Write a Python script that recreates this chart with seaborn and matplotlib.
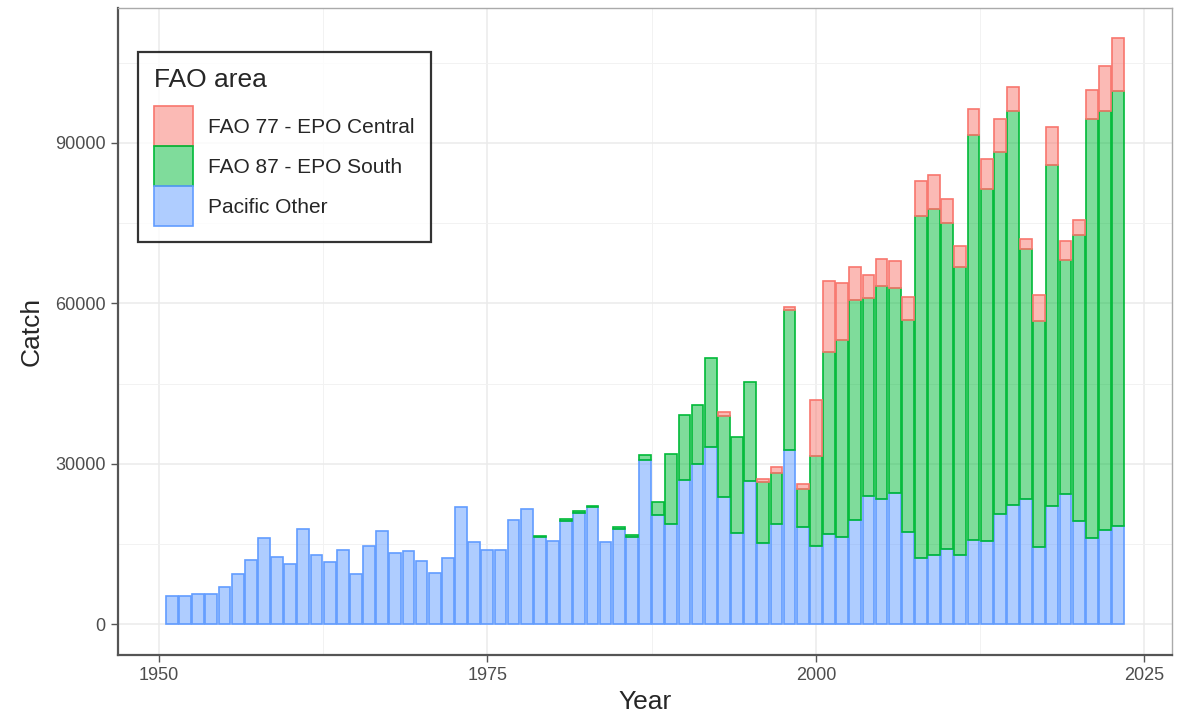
import numpy as np
import pandas as pd
import matplotlib
matplotlib.use("Agg")
import matplotlib.pyplot as plt
import matplotlib.ticker as mticker
from matplotlib.patches import Patch
import matplotlib.colors as mcolors
import seaborn as sns

years = list(range(1951, 2024))

pacific_other = [
    5400, 5400, 5700, 5700, 7100, 9500, 12100, 16100, 12700, 11300,   # 1951-1960
    17800, 13000, 11700, 13900, 9400, 14600, 17400, 13400, 13800, 11800,  # 1961-1970
    9600, 12500, 22000, 15400, 14000, 13900, 19500, 21500, 16300, 15600,  # 1971-1980
    19400, 20900, 22000, 15500, 17800, 16400, 30800, 20400, 18700, 27000,  # 1981-1990
    30000, 33200, 23900, 17100, 26900, 15200, 18700, 32700, 18300, 14700,  # 1991-2000
    16900, 16400, 19500, 24000, 23400, 24600, 17300, 12500, 13000, 14100,  # 2001-2010
    13000, 15800, 15600, 20700, 22400, 23400, 14500, 22100, 24300, 19300,  # 2011-2020
    16200, 17600, 18400,                                                   # 2021-2023
]

fao87_south = [
    0, 0, 0, 0, 0, 0, 0, 0, 0, 0,                # 1951-1960
    0, 0, 0, 0, 0, 0, 0, 0, 0, 0,                # 1961-1970
    0, 0, 0, 0, 0, 0, 0, 0, 200, 0,              # 1971-1980
    300, 400, 200, 0, 400, 400, 800, 2500, 13200, 12200,   # 1981-1990
    11050, 16600, 15100, 18000, 18400, 11500, 9600, 26000, 7100, 16800,  # 1991-2000
    34100, 36800, 41100, 37000, 39800, 38300, 39600, 63900, 64600, 60900,  # 2001-2010
    53800, 75700, 65700, 67500, 73600, 46800, 42200, 63700, 43900, 53500,  # 2011-2020
    78300, 78300, 81300,                                                   # 2021-2023
]

fao77_central = [
    0, 0, 0, 0, 0, 0, 0, 0, 0, 0,                # 1951-1960
    0, 0, 0, 0, 0, 0, 0, 0, 0, 0,                # 1961-1970
    0, 0, 0, 0, 0, 0, 0, 0, 0, 0,                # 1971-1980
    0, 0, 0, 0, 0, 0, 0, 0, 0, 0,                # 1981-1990
    0, 0, 650, 0, 0, 550, 1100, 650, 900, 10500,  # 1991-2000
    13200, 10600, 6200, 4400, 5100, 5000, 4300, 6400, 6400, 4500,  # 2001-2010
    4000, 4900, 5600, 6200, 4500, 1900, 4800, 7100, 3500, 2700,    # 2011-2020
    5400, 8400, 9900,                                              # 2021-2023
]

area_names = ["FAO 77 - EPO Central", "FAO 87 - EPO South", "Pacific Other"]
area_colors = ["#F8766D", "#00BA38", "#619CFF"]

x_ticks = [1950, 1975, 2000, 2025]
y_ticks = [0, 30000, 60000, 90000]

df = pd.DataFrame({
    "Year": years * 3,
    "Catch": fao77_central + fao87_south + pacific_other,
    "FAO area": [area_names[0]] * len(years) + [area_names[1]] * len(years) + [area_names[2]] * len(years),
})

sns.set_theme(style="white")
plt.rcParams["font.family"] = ["Liberation Sans", "DejaVu Sans"]

fig = plt.figure(figsize=(11.84, 7.17), dpi=100)
ax = fig.add_axes([118 / 1184, 62 / 717, (1172 - 118) / 1184, (655 - 8) / 717])

sns.histplot(
    data=df, x="Year", weights="Catch", hue="FAO area",
    hue_order=area_names, palette=dict(zip(area_names, area_colors)),
    multiple="stack", discrete=True, shrink=0.9, alpha=1.0,
    ax=ax, legend=False, zorder=3,
)

# restyle bars: translucent fill, solid outline
for p in ax.patches:
    rgb = mcolors.to_rgb(p.get_facecolor())
    if p.get_height() <= 0:
        p.set_linewidth(0)
        p.set_facecolor((0, 0, 0, 0))
        continue
    p.set_facecolor((*rgb, 0.5))
    p.set_edgecolor((*rgb, 1.0))
    p.set_linewidth(1.2)

ax.set_xlim(1946.9, 2027.1)
ax.set_ylim(-5700, 115200)

ax.set_xticks(x_ticks)
ax.set_yticks(y_ticks)
ax.xaxis.set_minor_locator(mticker.MultipleLocator(12.5))
ax.yaxis.set_minor_locator(mticker.MultipleLocator(15000))
ax.yaxis.set_major_formatter(mticker.FuncFormatter(lambda v, pos: f"{int(v)}"))

ax.grid(which="major", color="#EBEBEB", linewidth=1.1, zorder=0)
ax.grid(which="minor", color="#F2F2F2", linewidth=0.7, zorder=0)
ax.set_axisbelow(True)

ax.tick_params(axis="both", which="major", direction="out", length=5, width=1,
               color="#555555", labelsize=13, labelcolor="#4D4D4D", pad=4,
               bottom=True, left=True)
ax.tick_params(axis="both", which="minor", length=0)

for side in ["left", "bottom"]:
    ax.spines[side].set_color("#555555")
    ax.spines[side].set_linewidth(1.6)
for side in ["top", "right"]:
    ax.spines[side].set_color("#AAAAAA")
    ax.spines[side].set_linewidth(1.0)

ax.set_xlabel("Year", fontsize=19, labelpad=4)
ax.set_ylabel("Catch", fontsize=19, labelpad=8)

handles = [Patch(facecolor=(*mcolors.to_rgb(c), 0.5), edgecolor=c, linewidth=1.2)
           for c in area_colors]
leg = ax.legend(
    handles, area_names, title="FAO area", loc="upper left",
    bbox_to_anchor=(0.019, 0.932), borderaxespad=0,
    fontsize=15, title_fontsize=19, frameon=True, fancybox=False,
    edgecolor="black", handlelength=1.88, handleheight=2.58,
    labelspacing=0.0, handletextpad=0.75, borderpad=0.75,
    alignment="left",
)
leg._legend_box.sep = 10.5
leg.get_frame().set_linewidth(1.6)
leg.get_frame().set_facecolor("white")
leg.set_zorder(10)

fig.savefig("out.png", dpi=100)
